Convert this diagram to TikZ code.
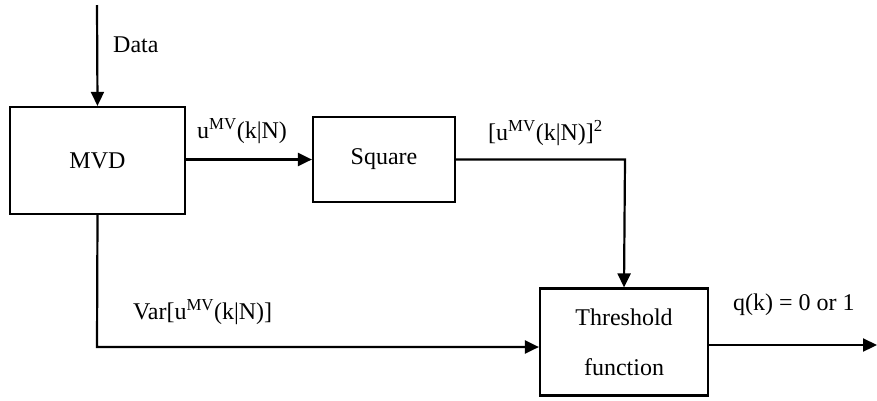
\documentclass[tikz,border=0pt]{standalone}
\usepackage{fontspec}
\setmainfont{Liberation Serif}
\usetikzlibrary{arrows.meta}
\begin{document}
\begin{tikzpicture}[x=1pt,y=-1pt,
  block/.style={draw,line width=2.2pt,inner sep=0pt,align=center,font=\fontsize{24}{50}\selectfont},
  sig/.style={line width=2.2pt,-{Triangle[length=14pt,width=13pt]}},
  lbl/.style={inner sep=0pt,anchor=west,font=\fontsize{24}{28}\selectfont}]
\useasboundingbox (0,0) rectangle (877,400);
% blocks
\node[block,minimum width=175pt,minimum height=107pt] (mvd) at (97.5,160.5) {MVD};
\node[block,minimum width=142pt,minimum height=85pt] (sq) at (384,159.5) {Square};
\node[block,minimum width=168pt,minimum height=107pt] (th) at (624,342) {Threshold\\function};
% input and output ends
\coordinate (in) at (97,5);
\coordinate (out) at (877,345);
\coordinate (var) at (97,347);
\coordinate (sqc) at (625,159.5);
% connectors
\draw[sig] (in) -- (mvd.north);
\draw[sig] (mvd.east |- sq.west) -- (sq.west);
\draw[sig] (sq.east) -- (sqc) -- (th.north);
\draw[sig] (mvd.south) -- (var) -- (th.west |- var);
\draw[sig] (th.east |- out) -- (out);
% labels
\node[lbl] (ldata) at (113,45) {Data};
\node[lbl] (lu) at (197,131) {u\textsuperscript{MV}(k|N)};
\node[lbl] (lsq) at (488,133) {[u\textsuperscript{MV}(k|N)]\textsuperscript{2}};
\node[lbl] (lvar) at (133,312) {Var[u\textsuperscript{MV}(k|N)]};
\node[lbl] (lq) at (733,305) {q(k) = 0 or 1};
\end{tikzpicture}
\end{document}
